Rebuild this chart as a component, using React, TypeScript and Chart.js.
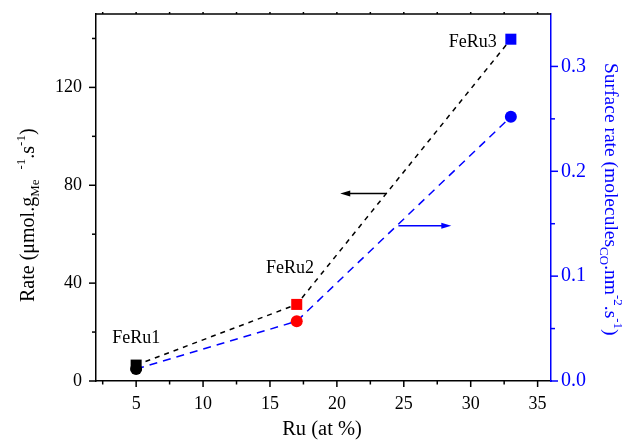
import { useEffect, useRef } from "react";
import { Chart, registerables } from "chart.js";

Chart.register(...registerables);

// ---- data ----
const ruPercent = [5, 17, 33];
const sampleNames = ["FeRu1", "FeRu2", "FeRu3"];
const rateValues = [6.5, 31.3, 139.7];
const surfaceRateValues = [0.0114, 0.057, 0.252];
const pointColors = ["#000000", "#ff0000", "#0000ff"];

const sampleLabelX = [5, 16.5, 30.16];
const sampleLabelRate = [15.5, 44, 136.4];

const xMajorTicks = [5, 10, 15, 20, 25, 30, 35];
const xMinorTicks = [2.5, 7.5, 12.5, 17.5, 22.5, 27.5, 32.5];
const leftMajorTicks = [0, 40, 80, 120];
const leftMinorTicks = [20, 60, 100, 140];
const rightMajorTicks = [0, 0.1, 0.2, 0.3];
const rightMinorTicks = [0.05, 0.15, 0.25];

// arrows: [tail, tip]
const rateArrowX = [23.7, 20.25];
const rateArrowY = 76.6;
const surfaceArrowX = [24.6, 28.55];
const surfaceArrowY = 0.148;

const SERIF = "'Liberation Serif', 'Times New Roman', serif";
const BLUE = "#0000ff";

type Seg = { t: string; m?: "sub" | "sup" | "gap" };

const leftTitle: Seg[] = [
  { t: "Rate (μmol.g" },
  { t: "Me", m: "sub" },
  { t: "  ", m: "gap" },
  { t: "-1", m: "sup" },
  { t: ".s" },
  { t: "-1", m: "sup" },
  { t: ")" },
];
const rightTitle: Seg[] = [
  { t: "Surface rate (molecules" },
  { t: "CO", m: "sub" },
  { t: ".nm" },
  { t: "-2", m: "sup" },
  { t: ".s" },
  { t: "-1", m: "sup" },
  { t: ")" },
];

function drawRich(
  ctx: CanvasRenderingContext2D,
  segs: Seg[],
  x: number,
  y: number,
  angle: number,
  color: string,
  base: number,
  small: number
) {
  ctx.save();
  ctx.translate(x, y);
  ctx.rotate(angle);
  ctx.fillStyle = color;
  ctx.textAlign = "left";
  ctx.textBaseline = "alphabetic";
  let cx = 0;
  for (const s of segs) {
    const isSmall = s.m === "sub" || s.m === "sup";
    ctx.font = `${isSmall ? small : base}px ${SERIF}`;
    const dy = s.m === "sub" ? 5 : s.m === "sup" ? -9 : 0;
    if (s.m !== "gap") ctx.fillText(s.t, cx, dy);
    cx += ctx.measureText(s.t).width;
  }
  ctx.restore();
}

const decorPlugin = {
  id: "decor",
  afterDatasetsDraw(chart: any) {
    const ctx: CanvasRenderingContext2D = chart.ctx;
    const { x, y, y1 } = chart.scales;
    const area = chart.chartArea;
    ctx.save();
    ctx.lineWidth = 1.5;
    // top border
    ctx.strokeStyle = "#000";
    ctx.beginPath();
    ctx.moveTo(area.left, area.top);
    ctx.lineTo(area.right, area.top);
    ctx.stroke();
    const tick = (x0: number, y0: number, x1: number, y1p: number, c: string) => {
      ctx.strokeStyle = c;
      ctx.beginPath();
      ctx.moveTo(x0, y0);
      ctx.lineTo(x1, y1p);
      ctx.stroke();
    };
    for (const v of xMajorTicks) {
      const px = x.getPixelForValue(v);
      tick(px, area.bottom, px, area.bottom + 6, "#000");
      tick(px, area.top, px, area.top - 2, "#000");
    }
    for (const v of xMinorTicks) {
      const px = x.getPixelForValue(v);
      tick(px, area.bottom, px, area.bottom + 3.5, "#000");
      tick(px, area.top, px, area.top - 2, "#000");
    }
    for (const v of leftMajorTicks) {
      const py = y.getPixelForValue(v);
      tick(area.left, py, area.left - 7, py, "#000");
    }
    for (const v of leftMinorTicks) {
      const py = y.getPixelForValue(v);
      tick(area.left, py, area.left - 4, py, "#000");
    }
    for (const v of rightMajorTicks) {
      const py = y1.getPixelForValue(v);
      tick(area.right, py, area.right + 7, py, BLUE);
    }
    for (const v of rightMinorTicks) {
      const py = y1.getPixelForValue(v);
      tick(area.right, py, area.right + 4, py, BLUE);
    }

    // arrows
    const arrow = (xs: number[], py: number, c: string) => {
      const tail = x.getPixelForValue(xs[0]);
      const tip = x.getPixelForValue(xs[1]);
      const dir = Math.sign(tip - tail);
      ctx.strokeStyle = c;
      ctx.fillStyle = c;
      ctx.lineWidth = 1.5;
      ctx.beginPath();
      ctx.moveTo(tail, py);
      ctx.lineTo(tip - dir * 6, py);
      ctx.stroke();
      ctx.beginPath();
      ctx.moveTo(tip, py);
      ctx.lineTo(tip - dir * 10, py - 3);
      ctx.lineTo(tip - dir * 10, py + 3);
      ctx.closePath();
      ctx.fill();
    };
    arrow(rateArrowX, y.getPixelForValue(rateArrowY), "#000");
    arrow(surfaceArrowX, y1.getPixelForValue(surfaceArrowY), BLUE);

    // sample labels
    ctx.fillStyle = "#000";
    ctx.font = `18px ${SERIF}`;
    ctx.textAlign = "center";
    ctx.textBaseline = "alphabetic";
    sampleNames.forEach((n, i) => {
      ctx.fillText(n, x.getPixelForValue(sampleLabelX[i]), y.getPixelForValue(sampleLabelRate[i]));
    });

    // axis titles
    ctx.font = `20.5px ${SERIF}`;
    ctx.fillText("Ru (at %)", (area.left + area.right) / 2 - 1.5, 435);
    drawRich(ctx, leftTitle, 33.5, 302, -Math.PI / 2, "#000", 20, 13);
    drawRich(ctx, rightTitle, 605, 63, Math.PI / 2, BLUE, 19.5, 13);
    ctx.restore();
  },
};

export default function App() {
  const ref = useRef<HTMLCanvasElement | null>(null);
  useEffect(() => {
    if (!ref.current) return;
    const setTicks = (vals: number[]) => (scale: any) => {
      scale.ticks = vals.map((v) => ({ value: v }));
    };
    const fixV = (w: number) => (s: any) => {
      s.width = w;
      s.paddingTop = 0;
      s.paddingBottom = 0;
    };
    const chart = new Chart(ref.current, {
      type: "line",
      data: {
        datasets: [
          {
            label: "Rate",
            data: ruPercent.map((r, i) => ({ x: r, y: rateValues[i] })),
            yAxisID: "y",
            borderColor: "#000",
            borderWidth: 1.5,
            borderDash: [5, 5],
            pointStyle: "rect",
            pointRadius: 7.8,
            pointBorderWidth: 0,
            pointBackgroundColor: pointColors,
            pointBorderColor: pointColors,
            clip: false,
            order: 2,
          },
          {
            label: "Surface rate",
            data: ruPercent.map((r, i) => ({ x: r, y: surfaceRateValues[i] })),
            yAxisID: "y1",
            borderColor: BLUE,
            borderWidth: 1.5,
            borderDash: [8, 6],
            pointStyle: "circle",
            pointRadius: 6,
            pointBorderWidth: 0,
            pointBackgroundColor: pointColors,
            pointBorderColor: pointColors,
            clip: false,
            order: 1,
          },
        ],
      },
      options: {
        animation: false,
        responsive: false,
        maintainAspectRatio: false,
        layout: { padding: { top: 14, left: 0, right: 0, bottom: 0 } },
        plugins: { legend: { display: false }, tooltip: { enabled: false } },
        scales: {
          x: {
            type: "linear",
            min: 2,
            max: 36,
            afterFit: (s: any) => {
              s.height = 59;
              s.paddingLeft = 0;
              s.paddingRight = 0;
            },
            afterBuildTicks: setTicks(xMajorTicks),
            grid: { display: false, drawTicks: false },
            border: { display: true, color: "#000", width: 1.5 },
            ticks: { color: "#000", font: { family: SERIF, size: 18 }, padding: 12, maxRotation: 0, autoSkip: false },
          },
          y: {
            type: "linear",
            position: "left",
            min: 0,
            max: 150,
            afterFit: fixV(96),
            afterBuildTicks: setTicks(leftMajorTicks),
            grid: { display: false, drawTicks: false },
            border: { display: true, color: "#000", width: 1.5 },
            ticks: { color: "#000", font: { family: SERIF, size: 18 }, padding: 14, autoSkip: false },
          },
          y1: {
            type: "linear",
            position: "right",
            min: 0,
            max: 0.35,
            afterFit: fixV(78),
            afterBuildTicks: setTicks(rightMajorTicks),
            grid: { display: false, drawTicks: false },
            border: { display: true, color: BLUE, width: 1.5 },
            ticks: {
              color: BLUE,
              font: { family: SERIF, size: 20 },
              padding: 10,
              autoSkip: false,
              callback: (v: any) => Number(v).toFixed(1),
            },
          },
        },
      },
      plugins: [decorPlugin],
    });
    return () => chart.destroy();
  }, []);
  return (
    <div style={{ position: "fixed", left: 0, top: 0, width: 629, height: 440, background: "#fff" }}>
      <canvas ref={ref} width={629} height={440} style={{ width: 629, height: 440, display: "block" }} />
    </div>
  );
}
